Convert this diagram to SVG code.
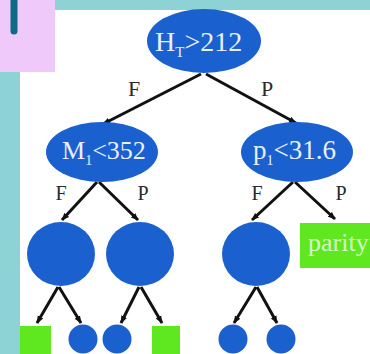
<svg xmlns="http://www.w3.org/2000/svg" width="370" height="354" viewBox="0 0 370 354">
<style>
.n{fill:#1b60cf}
.g{fill:#5fe81f}
.lbl{font-family:"Liberation Serif","DejaVu Serif",serif;fill:#e8f0ff}
.ed{font-family:"Liberation Serif","DejaVu Serif",serif;fill:#2a2a2a;text-anchor:middle}
.c{stroke:#111;stroke-width:3;fill:none;marker-end:url(#ah)}
</style>
<defs>
<marker id="ah" viewBox="0 0 10 10" refX="9" refY="5" markerWidth="2.6" markerHeight="2.6" orient="auto">
<path d="M0,1 L10,5 L0,9 z" fill="#111"/>
</marker>
</defs>
<rect width="370" height="354" fill="#8dd3d6"/>
<rect x="20" y="10" width="350" height="344" fill="#ffffff"/>
<rect x="0" y="0" width="55" height="72" fill="#f0c9fb"/>
<line x1="14" y1="0" x2="14" y2="31" stroke="#0e6a86" stroke-width="7" stroke-linecap="round"/>
<g id="connectors">
<path class="c" d="M201,74 L103,124"/>
<path class="c" d="M206,74 L296,123"/>
<path class="c" d="M97,182 L62,220"/>
<path class="c" d="M99,182 L138,220"/>
<path class="c" d="M293,182 L252,220"/>
<path class="c" d="M295,182 L335,219"/>
<path class="c" d="M58,287 L37,323"/>
<path class="c" d="M59,287 L81,323"/>
<path class="c" d="M139,287 L121,323"/>
<path class="c" d="M141,287 L162,323"/>
<path class="c" d="M256,287 L234,323"/>
<path class="c" d="M257,287 L277,323"/>
<text class="ed" x="134" y="96" font-size="22">F</text>
<text class="ed" x="267" y="96" font-size="22">P</text>
<text class="ed" x="61" y="200" font-size="20">F</text>
<text class="ed" x="143" y="200" font-size="20">P</text>
<text class="ed" x="257" y="200" font-size="20">F</text>
<text class="ed" x="341" y="200" font-size="20">P</text>
</g>
<g id="root">
<ellipse class="n" cx="204" cy="41" rx="57" ry="32"/>
<text class="lbl" x="155" y="51" font-size="28">H<tspan font-size="15" dy="6">T</tspan><tspan dy="-6">&gt;212</tspan></text>
</g>
<g id="m1">
<ellipse class="n" cx="102" cy="152" rx="56" ry="30"/>
<text class="lbl" x="62" y="159" font-size="26">M<tspan font-size="14" dy="6">1</tspan><tspan dy="-6">&lt;352</tspan></text>
</g>
<g id="p1">
<ellipse class="n" cx="297" cy="152" rx="56" ry="30"/>
<text class="lbl" x="253" y="159" font-size="27">p<tspan font-size="14" dy="6">1</tspan><tspan dy="-6">&lt;31.6</tspan></text>
</g>
<g id="c1"><ellipse class="n" cx="61" cy="254" rx="34" ry="32"/></g>
<g id="c2"><ellipse class="n" cx="140" cy="254" rx="34" ry="32"/></g>
<g id="c3"><ellipse class="n" cx="256" cy="254" rx="34" ry="32"/></g>
<g id="parity">
<rect class="g" x="300" y="223" width="70" height="45"/>
<text x="308" y="251" font-family="'Liberation Serif','DejaVu Serif',serif" font-size="26" fill="#d6f7c6">parity</text>
</g>
<g id="l1"><rect class="g" x="20" y="326" width="31" height="28"/></g>
<g id="l2"><circle class="n" cx="83" cy="339" r="14.5"/></g>
<g id="l3"><circle class="n" cx="117" cy="339" r="14.5"/></g>
<g id="l4"><rect class="g" x="152" y="326" width="28" height="28"/></g>
<g id="l5"><circle class="n" cx="233" cy="339" r="14.5"/></g>
<g id="l6"><circle class="n" cx="281" cy="339" r="14.5"/></g>
</svg>
